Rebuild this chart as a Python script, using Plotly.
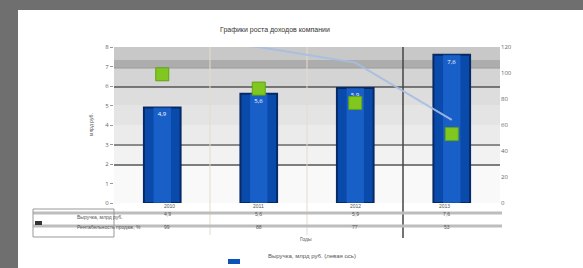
import plotly.graph_objects as go

categories = ["2010", "2011", "2012", "2013"]
revenue = [4.9, 5.6, 5.9, 7.6]
margin_pct = [99, 88, 77, 53]
trend = [127, 120, 108, 64]
left_ticks = [0, 1, 2, 3, 4, 5, 6, 7, 8]
right_ticks = [0, 20, 40, 60, 80, 100, 120]
table_row1 = ["4,9", "5,6", "5,9", "7,6"]
table_row2 = ["99", "88", "77", "53"]

W, H = 583, 268
L, T = 114, 47
R = W - 500
B = H - 203
PW, PH = W - L - R, H - T - B

def px(x):
    return (x - L) / PW

def py(y):
    return (H - B - y) / PH

fig = go.Figure()
fig.add_trace(go.Bar(
    x=categories, y=revenue, name="Выручка, млрд руб. (левая ось)",
    width=0.38, marker=dict(color="#0a4aab", line=dict(color="#062a66", width=2)),
))
fig.add_trace(go.Bar(
    x=categories, y=revenue, width=0.18, hoverinfo="skip",
    marker=dict(color="rgba(35,110,220,0.6)", line=dict(width=0)),
    text=table_row1, textposition="inside", insidetextanchor="end",
    textfont=dict(color="white", size=6),
))
fig.add_trace(go.Scatter(
    x=categories, y=trend, yaxis="y2", mode="lines", cliponaxis=False,
    line=dict(color="rgba(165,190,225,0.9)", width=2),
))
fig.add_trace(go.Scatter(
    x=categories, y=margin_pct, yaxis="y2", mode="markers", cliponaxis=False,
    marker=dict(symbol="square", size=13, color="#80c820",
                line=dict(color="#62a214", width=1)),
))

shapes = []
# gray frame (left and top)
shapes.append(dict(type="rect", xref="paper", yref="paper", x0=px(-5), x1=px(18),
                   y0=py(H + 5), y1=py(-5), fillcolor="#6f6f6f", line=dict(width=0), layer="below"))
shapes.append(dict(type="rect", xref="paper", yref="paper", x0=px(-5), x1=px(W + 5),
                   y0=py(10), y1=py(-5), fillcolor="#6f6f6f", line=dict(width=0), layer="below"))
grads = [(47, 60, "#c8c8c8"), (60, 68, "#adadad"), (68, 87, "#d4d4d4"), (87, 105, "#dddddd"),
         (105, 125, "#e4e4e4"), (125, 145, "#ebebeb"), (145, 165, "#f2f2f2"), (165, 203, "#f9f9f9")]
for y0, y1, c in grads:
    shapes.append(dict(type="rect", xref="paper", yref="paper", x0=0, x1=1,
                       y0=py(y1), y1=py(y0), fillcolor=c, line=dict(width=0), layer="below"))
for yy, c, w in [(87, "#555", 1.5), (145, "#8a8a8a", 2), (165, "#555", 1.5), (68, "#9a9a9a", 1)]:
    shapes.append(dict(type="line", xref="paper", yref="paper", x0=0, x1=1,
                       y0=py(yy), y1=py(yy), line=dict(color=c, width=w), layer="below"))
shapes.append(dict(type="line", xref="paper", yref="paper", x0=px(403), x1=px(403),
                   y0=py(238), y1=py(47), line=dict(color="#444", width=1.5), layer="below"))
for xx in [210, 307]:
    shapes.append(dict(type="line", xref="paper", yref="paper", x0=px(xx), x1=px(xx),
                       y0=py(235), y1=py(47), line=dict(color="#e3dccd", width=1), layer="below"))
for yy in [213, 226]:
    shapes.append(dict(type="line", xref="paper", yref="paper", x0=px(33), x1=px(502),
                       y0=py(yy), y1=py(yy), line=dict(color="#bdbdbd", width=3), layer="below"))
shapes.append(dict(type="rect", xref="paper", yref="paper", x0=px(33), x1=px(114),
                   y0=py(237), y1=py(209), fillcolor="rgba(0,0,0,0)", line=dict(color="#999", width=1)))
shapes.append(dict(type="rect", xref="paper", yref="paper", x0=px(35), x1=px(42),
                   y0=py(225), y1=py(221), fillcolor="#333", line=dict(width=0)))
shapes.append(dict(type="rect", xref="paper", yref="paper", x0=px(228), x1=px(240),
                   y0=py(264), y1=py(259), fillcolor="#0c52b8", line=dict(width=0)))

ann = []
def text(x, y, s, size=6, color="#555", **kw):
    ann.append(dict(x=px(x), y=py(y), xref="paper", yref="paper", text=s, showarrow=False,
                    font=dict(size=size, color=color, family="Liberation Sans"), **kw))

text(275, 24, "Графики роста доходов компании", size=7, color="#333")
for i, c in enumerate(categories):
    cx = 114 + (500 - 114) * (i + 0.5) / 4
    text(cx, 211, c, size=5)
    text(cx, 219, table_row1[i], size=5)
    text(cx, 232, table_row2[i], size=5)
text(75, 222, "Выручка, млрд руб.", size=5)
text(75, 232, "Рентабельность продаж, %", size=5)
text(306, 244, "Годы", size=5)
text(312, 261, "Выручка, млрд руб. (левая ось)", size=6)
text(86, 125, "млрд руб.", size=5, textangle=-90)

fig.update_layout(
    width=W, height=H, margin=dict(l=L, r=R, t=T, b=B),
    paper_bgcolor="white", plot_bgcolor="rgba(0,0,0,0)",
    showlegend=False, barmode="overlay",
    xaxis=dict(showticklabels=False, showgrid=False, zeroline=False, range=[-0.5, 3.5]),
    yaxis=dict(range=[0, 8], tickvals=left_ticks, showgrid=False, zeroline=False,
               tickfont=dict(size=6, color="#666"), ticks="outside", ticklen=3, tickcolor="#999"),
    yaxis2=dict(range=[0, 120], tickvals=right_ticks, overlaying="y", side="right",
                showgrid=False, zeroline=False, tickfont=dict(size=6, color="#666")),
    shapes=shapes, annotations=ann,
)
fig.write_html("out.html", config={"displayModeBar": False},
               post_script="document.body.style.margin='0';document.body.style.overflow='hidden';")
